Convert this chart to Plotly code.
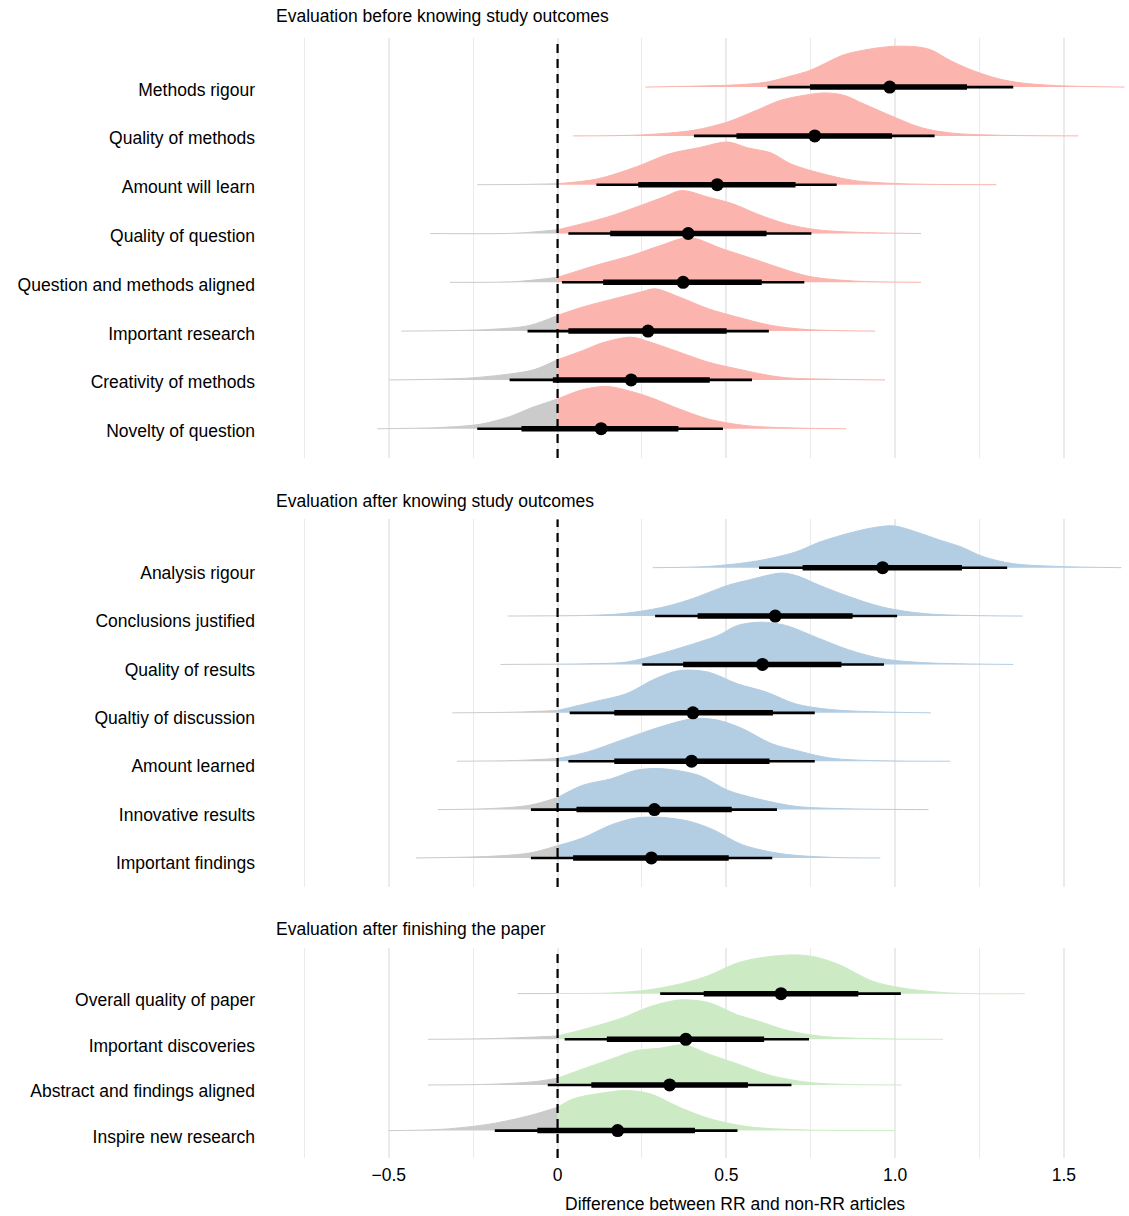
import plotly.graph_objects as go

# ---------------- Evaluation before knowing study outcomes ----------------
before_labels = ["Methods rigour", "Quality of methods", "Amount will learn", "Quality of question",
                 "Question and methods aligned", "Important research", "Creativity of methods",
                 "Novelty of question"]
before_median = [0.984, 0.762, 0.473, 0.387, 0.372, 0.268, 0.218, 0.129]
before_lo66 = [0.748, 0.530, 0.239, 0.156, 0.135, 0.032, -0.014, -0.107]
before_hi66 = [1.213, 0.991, 0.705, 0.619, 0.605, 0.501, 0.451, 0.358]
before_lo95 = [0.622, 0.404, 0.115, 0.032, 0.013, -0.089, -0.142, -0.238]
before_hi95 = [1.350, 1.117, 0.827, 0.752, 0.731, 0.626, 0.576, 0.490]
before_dens_x = [
    [0.26, 0.447, 0.533, 0.619, 0.69, 0.748, 0.79, 0.848, 0.92, 0.991, 1.063, 1.106, 1.163, 1.235, 1.307, 1.378, 1.493, 1.68],
    [0.046, 0.246, 0.404, 0.504, 0.59, 0.662, 0.733, 0.791, 0.848, 0.905, 0.991, 1.077, 1.163, 1.307, 1.543],
    [-0.238, -0.1, 0.0, 0.117, 0.232, 0.332, 0.418, 0.504, 0.562, 0.633, 0.69, 0.777, 0.877, 1.02, 1.3],
    [-0.377, -0.126, 0.0, 0.146, 0.246, 0.318, 0.368, 0.447, 0.519, 0.59, 0.676, 0.762, 0.877, 1.077],
    [-0.319, -0.126, 0.0, 0.117, 0.218, 0.304, 0.39, 0.49, 0.59, 0.662, 0.748, 0.877, 1.077],
    [-0.463, -0.198, -0.083, 0.0, 0.074, 0.16, 0.246, 0.289, 0.361, 0.447, 0.533, 0.633, 0.733, 0.941],
    [-0.5, -0.27, -0.14, -0.069, 0.0, 0.074, 0.132, 0.218, 0.275, 0.361, 0.447, 0.533, 0.662, 0.805, 0.97],
    [-0.534, -0.341, -0.226, -0.14, -0.083, 0.0, 0.074, 0.146, 0.218, 0.275, 0.361, 0.447, 0.562, 0.705, 0.855],
]
before_dens_h = [
    [0, .027, .047, .102, .225, .342, .477, .662, .773, .834, .826, .764, .547, .328, .170, .082, .027, 0],
    [0, .020, .117, .287, .527, .732, .834, .881, .834, .662, .404, .170, .061, .014, 0],
    [0, .006, .020, .117, .363, .635, .758, .875, .758, .650, .430, .240, .088, .020, 0],
    [0, .006, .076, .334, .574, .758, .881, .744, .609, .404, .199, .082, .027, 0],
    [0, .014, .102, .355, .547, .752, .916, .682, .457, .287, .117, .027, 0],
    [0, .035, .117, .322, .492, .650, .800, .867, .697, .457, .287, .117, .035, 0],
    [0, .035, .123, .211, .416, .600, .758, .875, .773, .568, .363, .225, .055, .014, 0],
    [0, .027, .096, .252, .416, .609, .800, .867, .764, .641, .404, .199, .061, .014, 0],
]

# ---------------- Evaluation after knowing study outcomes ----------------
after_labels = ["Analysis rigour", "Conclusions justified", "Quality of results", "Qualtiy of discussion",
                "Amount learned", "Innovative results", "Important findings"]
after_median = [0.963, 0.645, 0.607, 0.401, 0.397, 0.287, 0.278]
after_lo66 = [0.726, 0.415, 0.372, 0.168, 0.168, 0.056, 0.046]
after_hi66 = [1.198, 0.874, 0.841, 0.638, 0.628, 0.516, 0.507]
after_lo95 = [0.597, 0.289, 0.251, 0.036, 0.032, -0.079, -0.079]
after_hi95 = [1.332, 1.006, 0.967, 0.762, 0.762, 0.650, 0.636]
after_dens_x = [
    [0.282, 0.447, 0.59, 0.705, 0.777, 0.877, 0.948, 0.999, 1.063, 1.135, 1.192, 1.264, 1.35, 1.479, 1.67],
    [-0.148, 0.0, 0.089, 0.189, 0.304, 0.39, 0.504, 0.562, 0.662, 0.705, 0.777, 0.862, 0.963, 1.092, 1.378],
    [-0.169, 0.0, 0.089, 0.203, 0.304, 0.418, 0.476, 0.533, 0.605, 0.676, 0.777, 0.862, 0.963, 1.092, 1.35],
    [-0.312, -0.126, 0.0, 0.103, 0.203, 0.289, 0.361, 0.447, 0.533, 0.619, 0.705, 0.819, 1.106],
    [-0.298, -0.126, 0.0, 0.089, 0.189, 0.304, 0.404, 0.476, 0.547, 0.633, 0.705, 0.819, 1.163],
    [-0.355, -0.198, -0.083, 0.0, 0.074, 0.16, 0.232, 0.304, 0.418, 0.504, 0.59, 0.705, 0.877, 1.099],
    [-0.42, -0.198, -0.083, 0.0, 0.074, 0.16, 0.232, 0.304, 0.39, 0.461, 0.547, 0.662, 0.805, 0.956],
]
after_dens_h = [
    [0, .027, .138, .324, .531, .738, .841, .862, .738, .564, .440, .221, .083, .027, 0],
    [0, .005, .014, .048, .171, .337, .634, .738, .888, .841, .634, .407, .186, .048, 0],
    [0, .006, .014, .048, .221, .461, .600, .806, .874, .806, .531, .304, .118, .035, 0],
    [0, .014, .048, .221, .393, .702, .874, .841, .600, .428, .186, .062, 0],
    [0, .014, .056, .192, .434, .709, .882, .847, .676, .366, .227, .056, 0],
    [0, .021, .089, .248, .502, .640, .812, .847, .709, .399, .227, .068, .014, 0],
    [0, .035, .103, .254, .413, .688, .826, .841, .758, .585, .275, .089, .014, 0],
]

# ---------------- Evaluation after finishing the paper ----------------
finish_labels = ["Overall quality of paper", "Important discoveries", "Abstract and findings aligned",
                 "Inspire new research"]
finish_median = [0.662, 0.380, 0.332, 0.178]
finish_lo66 = [0.433, 0.146, 0.100, -0.060]
finish_hi66 = [0.891, 0.612, 0.564, 0.407]
finish_lo95 = [0.304, 0.021, -0.029, -0.186]
finish_hi95 = [1.017, 0.745, 0.693, 0.533]
finish_dens_x = [
    [-0.119, 0.0, 0.16, 0.275, 0.375, 0.447, 0.533, 0.619, 0.705, 0.762, 0.834, 0.934, 1.02, 1.163, 1.385],
    [-0.384, -0.198, 0.0, 0.089, 0.189, 0.275, 0.361, 0.447, 0.533, 0.59, 0.676, 0.791, 1.142],
    [-0.384, -0.198, -0.069, 0.0, 0.089, 0.16, 0.232, 0.304, 0.375, 0.447, 0.533, 0.633, 0.762, 1.02],
    [-0.5, -0.341, -0.198, -0.083, 0.0, 0.046, 0.117, 0.203, 0.275, 0.361, 0.447, 0.562, 0.733, 0.999],
]
finish_dens_h = [
    [0, .004, .015, .088, .235, .395, .673, .805, .849, .805, .636, .270, .125, .015, 0],
    [0, .015, .072, .241, .461, .717, .862, .805, .533, .410, .204, .059, 0],
    [0, .015, .072, .147, .388, .570, .752, .805, .877, .680, .461, .204, .044, 0],
    [0, .029, .147, .329, .511, .695, .805, .877, .805, .511, .270, .088, .015, 0],
]

panel_titles = ["Evaluation before knowing study outcomes",
                "Evaluation after knowing study outcomes",
                "Evaluation after finishing the paper"]
x_tickvals = [-0.5, 0, 0.5, 1.0, 1.5]
x_ticktext = ["\u22120.5", "0", "0.5", "1.0", "1.5"]
x_title = "Difference between RR and non-RR articles"

# ---------------- styling ----------------
FONT = "Liberation Sans, Arial, Helvetica, sans-serif"
FS = 17.5
GREY = "#CBCBCB"
PANEL_COLORS = ["#FBB4AE", "#B3CDE3", "#CCEBC5"]
GRID = "#EBEBEB"
W, H = 1129, 1216
L_MARGIN = 270
X_RANGE = [-0.852, 1.693]
# panel extents in pixels (top, bottom)
PANEL_PX = [(38.3, 458.0), (519.3, 887.0), (948.0, 1158.0)]
TITLE_PX = [16, 501, 929]
# category labels sit slightly below the slab baselines
LABEL_DROP = [0.05, 0.105, 0.14]

panels = [
    (before_labels, before_median, before_lo66, before_hi66, before_lo95, before_hi95, before_dens_x, before_dens_h),
    (after_labels, after_median, after_lo66, after_hi66, after_lo95, after_hi95, after_dens_x, after_dens_h),
    (finish_labels, finish_median, finish_lo66, finish_hi66, finish_lo95, finish_hi95, finish_dens_x, finish_dens_h),
]

fig = go.Figure()
layout = {}
annotations = []

for p, (labels, med, lo66, hi66, lo95, hi95, dens_x, dens_h) in enumerate(panels):
    suffix = "" if p == 0 else str(p + 1)
    xa, ya = "x" + suffix, "y" + suffix
    n = len(labels)
    rows = [n - i for i in range(n)]
    color = PANEL_COLORS[p]

    # half-eye slabs: grey below zero, panel colour above
    for yv, xs, hs in zip(rows, dens_x, dens_h):
        neg = [(x, h) for x, h in zip(xs, hs) if x <= 0]
        pos = [(x, h) for x, h in zip(xs, hs) if x >= 0]
        for part, c in ((neg, GREY), (pos, color)):
            if len(part) < 2:
                continue
            px = [q[0] for q in part]
            py = [yv + q[1] for q in part]
            fig.add_trace(go.Scatter(x=[px[0], px[-1]], y=[yv, yv], mode="lines",
                                     line=dict(width=0, color=c), hoverinfo="skip",
                                     xaxis=xa, yaxis=ya))
            fig.add_trace(go.Scatter(x=px, y=py, mode="lines",
                                     line=dict(width=1, color=c, shape="spline", smoothing=0.9),
                                     fill="tonexty", fillcolor=c, hoverinfo="skip",
                                     xaxis=xa, yaxis=ya))

    y_lo, y_hi = 0.4, n + 1.0
    # reference line at zero
    fig.add_trace(go.Scatter(x=[0, 0], y=[y_lo, y_hi], mode="lines",
                             line=dict(color="black", width=2.2, dash="9px,6px"),
                             hoverinfo="skip", xaxis=xa, yaxis=ya))

    # 95% and 66% intervals, median point
    thin_x, thin_y, thick_x, thick_y = [], [], [], []
    for yv, a, b, c2, d in zip(rows, lo95, hi95, lo66, hi66):
        thin_x += [a, b, None]
        thin_y += [yv, yv, None]
        thick_x += [c2, d, None]
        thick_y += [yv, yv, None]
    fig.add_trace(go.Scatter(x=thin_x, y=thin_y, mode="lines", line=dict(color="black", width=2.6),
                             hoverinfo="skip", xaxis=xa, yaxis=ya))
    fig.add_trace(go.Scatter(x=thick_x, y=thick_y, mode="lines", line=dict(color="black", width=5.5),
                             hoverinfo="skip", xaxis=xa, yaxis=ya))
    fig.add_trace(go.Scatter(x=med, y=rows, mode="markers", marker=dict(color="black", size=13),
                             hoverinfo="skip", xaxis=xa, yaxis=ya))

    top, bot = PANEL_PX[p]
    layout["xaxis" + suffix] = dict(
        domain=[0, 1], range=X_RANGE, anchor=ya, tickvals=x_tickvals, ticktext=x_ticktext,
        showticklabels=(p == 2), ticks="", showgrid=True, gridcolor=GRID, gridwidth=1.8,
        minor=dict(tickvals=[-0.75, -0.25, 0.25, 0.75, 1.25], showgrid=True, gridcolor=GRID, gridwidth=1.2),
        zeroline=False, showline=False, fixedrange=True, ticklabelstandoff=4,
        tickfont=dict(family=FONT, size=FS, color="black"),
    )
    layout["yaxis" + suffix] = dict(
        domain=[1 - bot / H, 1 - top / H], range=[y_lo, y_hi], anchor=xa,
        tickvals=[r - LABEL_DROP[p] for r in rows], ticktext=labels, ticks="", showgrid=False,
        zeroline=False, showline=False, fixedrange=True, ticklabelstandoff=14,
        tickfont=dict(family=FONT, size=FS, color="black"),
    )
    annotations.append(dict(text=panel_titles[p], xref="paper", yref="paper",
                            x=4 / (W - L_MARGIN), y=1 - TITLE_PX[p] / H,
                            xanchor="left", yanchor="middle", showarrow=False,
                            font=dict(family=FONT, size=FS, color="black")))

annotations.append(dict(text=x_title, xref="paper", yref="paper",
                        x=(734.5 - L_MARGIN) / (W - L_MARGIN), y=1 - 1204 / H,
                        xanchor="center", yanchor="middle", showarrow=False,
                        font=dict(family=FONT, size=FS, color="black")))

fig.update_layout(
    width=W, height=H, margin=dict(l=L_MARGIN, r=0, t=0, b=0),
    paper_bgcolor="white", plot_bgcolor="white", showlegend=False,
    font=dict(family=FONT, size=FS, color="black"),
    annotations=annotations, **layout,
)

fig.write_html("out.html")
